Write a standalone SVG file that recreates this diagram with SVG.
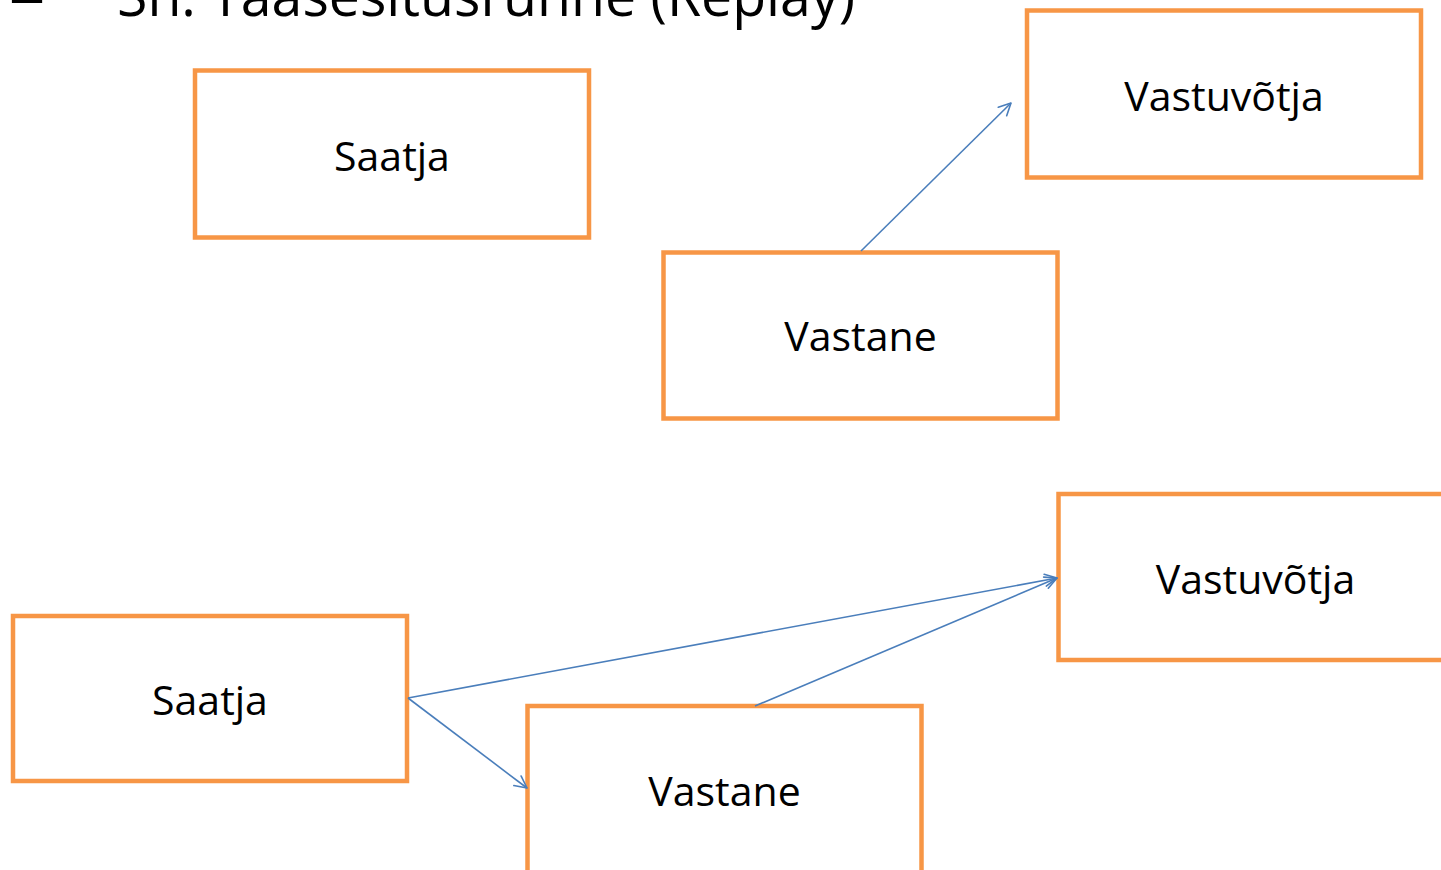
<svg xmlns="http://www.w3.org/2000/svg" width="1441" height="870" viewBox="0 0 1441 870">
  <style>
    .box { fill: #FFFFFF; stroke: #F79646; stroke-width: 4.5; }
    .lbl { font-family: "Open Sans", "Noto Sans", sans-serif; font-size: 41px; fill: #000000; text-anchor: middle; }
    .title { font-family: "Open Sans", "Noto Sans", sans-serif; font-size: 56px; fill: #000000; }
    .conn { stroke: #4A7EBB; stroke-width: 1.6; fill: none; marker-end: url(#arrow); }
  </style>
  <defs>
    <marker id="arrow" markerUnits="userSpaceOnUse" viewBox="-14 -8 16 16" refX="0" refY="0" markerWidth="16" markerHeight="16" orient="auto">
      <path d="M -12 -6 L 0 0 L -12 6" fill="none" stroke="#4A7EBB" stroke-width="1.6" stroke-linecap="round" stroke-linejoin="round"/>
    </marker>
  </defs>
  <rect width="1441" height="870" fill="#FFFFFF"/>
  <g id="title">
    <text class="title" x="9" y="16" textLength="36" lengthAdjust="spacingAndGlyphs">–</text>
    <text class="title" x="117" y="16" textLength="738" lengthAdjust="spacingAndGlyphs">Sh. Taasesitusrünne (Replay)</text>
  </g>
  <g id="saatja-1">
    <rect class="box" x="195" y="70.5" width="394" height="167"/>
    <text class="lbl" x="392" y="171">Saatja</text>
  </g>
  <g id="vastuvotja-1">
    <rect class="box" x="1027" y="10.5" width="394" height="167"/>
    <text class="lbl" x="1224" y="111">Vastuvõtja</text>
  </g>
  <g id="vastane-1">
    <rect class="box" x="663.5" y="252.5" width="394" height="166"/>
    <text class="lbl" x="860.5" y="351">Vastane</text>
  </g>
  <g id="vastuvotja-2">
    <rect class="box" x="1058.5" y="494" width="394" height="166"/>
    <text class="lbl" x="1255.5" y="594">Vastuvõtja</text>
  </g>
  <g id="saatja-2">
    <rect class="box" x="13" y="616" width="394" height="165"/>
    <text class="lbl" x="210" y="715">Saatja</text>
  </g>
  <g id="vastane-2">
    <rect class="box" x="527.5" y="706" width="394" height="190"/>
    <text class="lbl" x="724.5" y="806">Vastane</text>
  </g>
  <g id="connectors">
    <line class="conn" x1="861" y1="251" x2="1011" y2="103"/>
    <line class="conn" x1="408" y1="698" x2="1057" y2="578"/>
    <line class="conn" x1="408" y1="698" x2="527" y2="788"/>
    <line class="conn" x1="755" y1="706" x2="1057" y2="578"/>
  </g>
</svg>
